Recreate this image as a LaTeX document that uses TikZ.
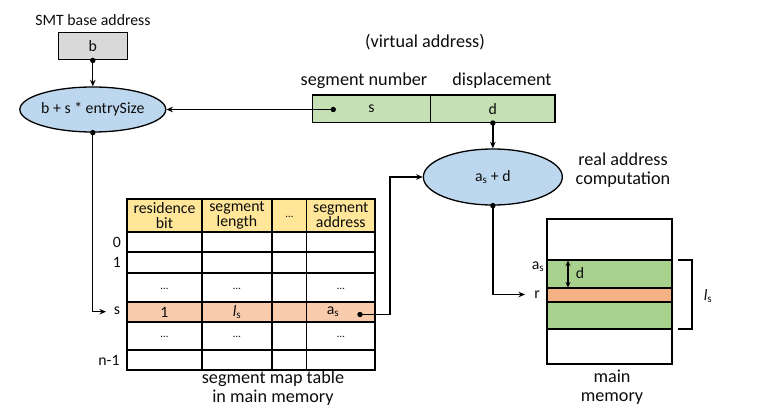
\documentclass[tikz,border=0pt]{standalone}
\usepackage{fontspec}
\setmainfont{Carlito}
\usetikzlibrary{shapes.geometric,arrows.meta}
\definecolor{grayb}{HTML}{D9D9D9}
\definecolor{blueb}{HTML}{BDD7EE}
\definecolor{greens}{HTML}{C5E0B4}
\definecolor{yel}{HTML}{FFE699}
\definecolor{srow}{HTML}{F8CBAD}
\definecolor{memg}{HTML}{A9D18E}
\definecolor{memo}{HTML}{F4B183}
\definecolor{ink}{HTML}{0D0D0D}
\begin{document}
\begin{tikzpicture}[x=1pt,y=-1pt,line width=1.3pt,
  lbl/.style={font=\fontsize{18.2}{19}\selectfont,inner sep=0pt,text=ink,align=center},
  txt/.style={font=\fontsize{15.8}{15}\selectfont,inner sep=0pt,text=ink,align=center},
  arr/.style={-{Stealth[length=6.5pt,width=5.5pt]}},
  dbl/.style={{Stealth[length=5.5pt,width=5pt]}-{Stealth[length=5.5pt,width=5pt]}},
  box/.style={draw,txt,inner sep=2pt}]
\useasboundingbox (0,0) rectangle (763,412);
% top left
\node[txt] (smt) at (93,20) {SMT base address};
\node[box,fill=grayb,minimum width=69,minimum height=27] (b) at (92.8,46.3) {b};
\node[ellipse,draw,fill=blueb,minimum width=140,minimum height=45,txt] (e1) at (92.8,109.5) {b + s * entrySize};
\fill (b.south) circle (2.7);
\draw[arr] (b.south) -- (e1.north);
% virtual address
\node[lbl] (va) at (425,42) {(virtual address)};
\node[lbl] (sn) at (364,81) {segment number};
\node[lbl] (dp) at (502,81) {displacement};
\node[box,fill=greens,minimum width=118.4,minimum height=27.3] (s) at (371.5,108.7) {s};
\node[box,fill=greens,minimum width=124.3,minimum height=27.3] (d) at (492.85,108.7) {d};
\coordinate (sd) at (333.3,109.5);
\fill (sd) circle (2.7);
\draw[arr] (sd) -- (e1.east);
% real address computation
\node[ellipse,draw,fill=blueb,minimum width=139,minimum height=56,txt] (e2) at (492.85,177) {a\textsubscript{s} + d};
\fill (d.south) circle (2.7);
\draw[arr] (d.south) -- (e2.north);
\node[lbl] (rac) at (623,170.5) {real address\\computation};
% table
\fill[yel] (127,199) rectangle (375,232);
\fill[srow] (127,302) rectangle (375,322);
\draw (127,199) rectangle (375,370);
\foreach \yy in {232,252,273,302,322,350} \draw (127,\yy) -- (375,\yy);
\foreach \xx in {202,272,306.7} \draw (\xx,199) -- (\xx,370);
\node[txt] (h1) at (164.5,215.5) {residence\\bit};
\node[txt] (h2) at (237,215.5) {segment\\length};
\node[txt,font=\fontsize{11}{12}\selectfont] (h3) at (289.3,216.5) {…};
\node[txt] (h4) at (340.8,215.5) {segment\\address};
\node[txt] (r0) at (117,242) {0};
\node[txt] (r1) at (117,262.5) {1};
\node[txt] (rs) at (117,311) {s};
\node[txt] (rn) at (109,360) {n-1};
\node[txt,font=\fontsize{11}{12}\selectfont] (a1) at (164.5,289) {…};
\node[txt,font=\fontsize{11}{12}\selectfont] (a2) at (237,289) {…};
\node[txt,font=\fontsize{11}{12}\selectfont] (a4) at (340.8,289) {…};
\node[txt,font=\fontsize{11}{12}\selectfont] (c1) at (164.5,337) {…};
\node[txt,font=\fontsize{11}{12}\selectfont] (c2) at (237,337) {…};
\node[txt,font=\fontsize{11}{12}\selectfont] (c4) at (340.8,337) {…};
\node[txt] (v1) at (164.5,312) {1};
\node[txt] (v2) at (237,312) {\textit{l}\textsubscript{s}};
\node[txt] (v4) at (333,312) {a\textsubscript{s}};
\node[lbl] (smtl) at (273,388) {segment map table\\in main memory};
% connectors through table
\coordinate (sin) at (106,311.7);
\fill (e1.south) circle (2.7);
\draw[arr] (e1.south) |- (sin);
\coordinate (asd) at (360,314.5);
\coordinate (bend) at (390,314.5);
\fill (asd) circle (2.7);
\draw[arr] (asd) -- (bend) |- (e2.west);
% main memory
\fill[memg] (547,260) rectangle (672,288);
\fill[memo] (547,288) rectangle (672,302);
\fill[memg] (547,302) rectangle (672,329);
\draw (547,219) rectangle (672,364);
\foreach \yy in {260,288,302,329} \draw (547,\yy) -- (672,\yy);
\node[txt] (asl) at (538,267) {a\textsubscript{s}};
\node[txt] (rl) at (537,294.5) {r};
\coordinate (rin) at (525,294.5);
\fill (e2.south) circle (2.7);
\draw[arr] (e2.south) |- (rin);
\coordinate (dt) at (568,260.5);
\coordinate (db) at (568,287.5);
\draw[dbl] (dt) -- (db);
\node[txt] (dl) at (580,273) {d};
\coordinate (bk1) at (678,260);
\coordinate (bk2) at (692,260);
\coordinate (bk3) at (692,329);
\coordinate (bk4) at (678,329);
\draw[line width=1.1pt] (bk1) -- (bk2) -- (bk3) -- (bk4);
\node[txt] (lsl) at (708,296) {\textit{l}\textsubscript{s}};
\node[lbl] (mm) at (612,387) {main\\memory};
\end{tikzpicture}
\end{document}
